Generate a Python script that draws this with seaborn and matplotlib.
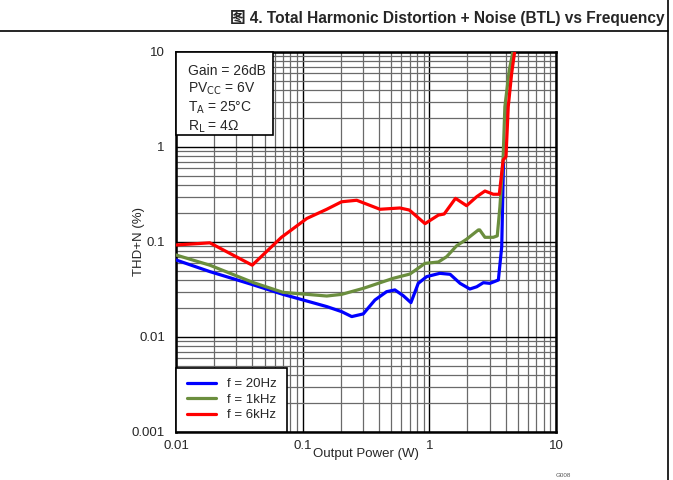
import numpy as np
import pandas as pd
import seaborn as sns
import matplotlib.pyplot as plt
from matplotlib.lines import Line2D
from matplotlib.patches import Rectangle
from matplotlib.ticker import LogLocator, FixedLocator, NullFormatter

# Dados (potência em W, THD+N em %)
p_20hz = [0.01, 0.0185, 0.041, 0.070, 0.155, 0.203, 0.244, 0.301, 0.372, 0.46, 0.535,
          0.623, 0.716, 0.818, 0.953, 1.21, 1.46, 1.75, 2.09, 2.37, 2.67, 3.01, 3.51,
          3.73, 3.85]
thd_20hz = [0.0647, 0.0488, 0.0353, 0.0281, 0.0209, 0.0185, 0.0164, 0.0175, 0.0245,
            0.030, 0.0313, 0.0272, 0.0230, 0.0367, 0.0432, 0.0468, 0.0457, 0.0367,
            0.032, 0.0338, 0.0373, 0.0367, 0.0398, 0.089, 0.68]

p_1khz = [0.01, 0.0185, 0.041, 0.070, 0.155, 0.203, 0.301, 0.52, 0.703, 0.925, 1.18,
          1.37, 1.64, 1.97, 2.44, 2.5, 2.75, 3.2, 3.44, 3.61, 3.83, 3.95, 4.28, 4.6]
thd_1khz = [0.073, 0.057, 0.0373, 0.0295, 0.027, 0.0281, 0.0325, 0.0415, 0.046,
            0.0596, 0.0616, 0.070, 0.091, 0.107, 0.134, 0.134, 0.112, 0.112, 0.116,
            0.235, 0.79, 2.66, 6.46, 10.5]

p_6khz = [0.01, 0.0185, 0.040, 0.068, 0.108, 0.155, 0.203, 0.267, 0.408, 0.586, 0.695,
          0.925, 1.18, 1.31, 1.61, 1.97, 2.37, 2.75, 3.2, 3.57, 3.83, 4.03, 4.2, 4.47,
          4.74]
thd_6khz = [0.093, 0.098, 0.057, 0.112, 0.177, 0.221, 0.265, 0.275, 0.221, 0.228,
            0.217, 0.156, 0.192, 0.197, 0.288, 0.241, 0.300, 0.344, 0.318, 0.318,
            0.73, 0.79, 2.66, 5.97, 10.5]

series = ["f = 20Hz", "f = 1kHz", "f = 6kHz"]
cores = ["#0000FF", "#6B8E3E", "#FF0000"]

dados = pd.concat([
    pd.DataFrame({"P": p_20hz, "THD": thd_20hz, "serie": series[0]}),
    pd.DataFrame({"P": p_1khz, "THD": thd_1khz, "serie": series[1]}),
    pd.DataFrame({"P": p_6khz, "THD": thd_6khz, "serie": series[2]}),
], ignore_index=True)

sns.set_style("white")
plt.rcParams['font.family'] = ['Liberation Sans', 'Noto Sans CJK SC', 'DejaVu Sans']

fig = plt.figure(figsize=(6.73, 4.8), dpi=100)
ax = fig.add_axes([0.2615, 0.10, 0.5646, 0.7917])

ax.set_xscale("log")
ax.set_yscale("log")
ax.set_xlim(0.01, 10)
ax.set_ylim(0.001, 10)

# Grade
ax.xaxis.set_minor_locator(LogLocator(base=10, subs=np.arange(2, 10)))
ax.yaxis.set_minor_locator(LogLocator(base=10, subs=np.arange(2, 10)))
ax.xaxis.set_minor_formatter(NullFormatter())
ax.yaxis.set_minor_formatter(NullFormatter())
ax.grid(which="major", color="black", linewidth=1.0)
ax.grid(which="minor", color="#6a6a6a", linewidth=0.9)
ax.set_axisbelow(True)

sns.lineplot(data=dados, x="P", y="THD", hue="serie", palette=cores, sort=False,
             estimator=None, linewidth=2.3, legend=False, ax=ax, zorder=3)

ax.xaxis.set_major_locator(FixedLocator([0.01, 0.1, 1, 10]))
ax.yaxis.set_major_locator(FixedLocator([0.001, 0.01, 0.1, 1, 10]))
ax.set_xticklabels(["0.01", "0.1", "1", "10"])
ax.set_yticklabels(["0.001", "0.01", "0.1", "1", "10"])
ax.tick_params(which="both", length=0, labelsize=9.5)
ax.tick_params(axis="y", pad=8)
ax.tick_params(axis="x", pad=6)

for s in ax.spines.values():
    s.set_color("black")
    s.set_linewidth(1.8)

ax.set_xlabel("Output Power (W)", fontsize=9.5)
ax.set_ylabel("THD+N (%)", fontsize=9.5)
ax.xaxis.set_label_coords(0.5, -0.043)
ax.yaxis.set_label_coords(-0.082, 0.5)

# Legenda
handles = [Line2D([0], [0], color=c, linewidth=2.3) for c in cores]
leg = ax.legend(handles, series, loc="lower left", borderaxespad=0, fancybox=False,
                edgecolor="black", framealpha=1, fontsize=9.5, handlelength=2.2,
                handletextpad=0.85, labelspacing=0.25, borderpad=0.8)
leg.get_frame().set_linewidth(1.2)
leg.set_zorder(5)

# Caixa de condições
ax.add_patch(Rectangle((0, 1 - 0.218), 0.255, 0.218, transform=ax.transAxes,
                       facecolor="white", edgecolor="black", linewidth=1.2, zorder=5,
                       clip_on=False))
ax.text(0.032, 0.968,
        "Gain = 26dB\nPV$_{\\mathrm{CC}}$ = 6V\nT$_{\\mathrm{A}}$ = 25°C\nR$_{\\mathrm{L}}$ = 4Ω",
        transform=ax.transAxes, ha="left", va="top", fontsize=10, linespacing=1.2,
        zorder=6)

# Título e moldura
fig.text(0.988, 0.962, "图 4. Total Harmonic Distortion + Noise (BTL) vs Frequency",
         ha="right", va="center", fontsize=11.2, fontweight="bold")
fig.add_artist(Line2D([0, 0.993], [0.935, 0.935], color="black", linewidth=1.2,
                      transform=fig.transFigure))
fig.add_artist(Line2D([0.993, 0.993], [0, 1], color="black", linewidth=1.2,
                      transform=fig.transFigure))
fig.text(0.825, 0.004, "G008", fontsize=4.5, color="#555555", ha="left", va="bottom")

plt.savefig("out.png", dpi=100)
